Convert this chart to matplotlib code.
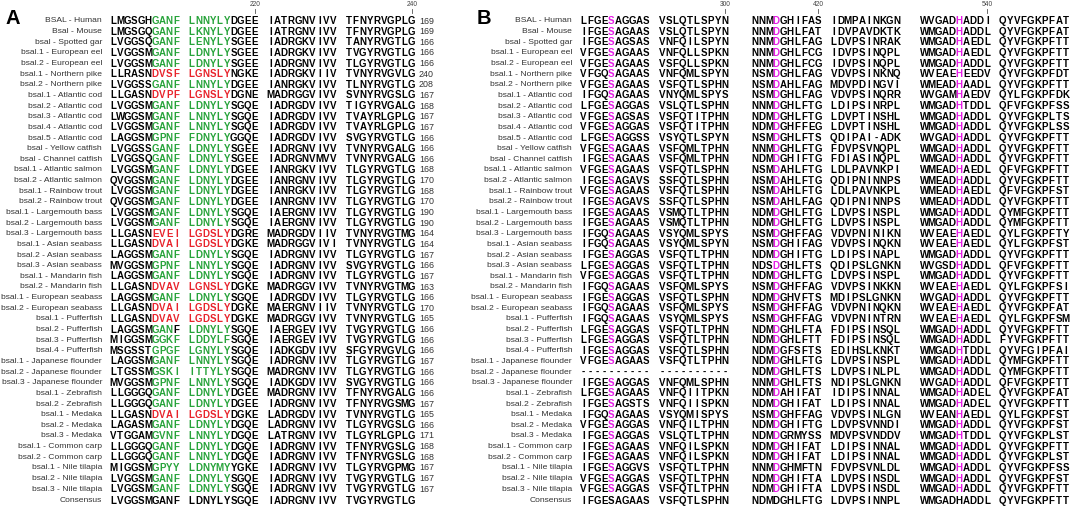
import matplotlib
matplotlib.use("Agg")
import matplotlib.pyplot as plt

# ---- panel A data: species labels, 4 blocks of 10 residues, end position
names_a = [
    "BSAL - Human", "Bsal - Mouse", "bsal - Spotted gar", "bsal.1 - European eel",
    "bsal.2 - European eel", "bsal.1 - Northern pike", "bsal.2 - Northern pike",
    "bsal.1 - Atlantic cod", "bsal.2 - Atlantic cod", "bsal.3 - Atlantic cod",
    "bsal.4 - Atlantic cod", "bsal.5 - Atlantic cod", "bsal - Yellow catfish",
    "bsal - Channel catfish", "bsal.1 - Atlantic salmon", "bsal.2 - Atlantic salmon",
    "bsal.1 - Rainbow trout", "bsal.2 - Rainbow trout", "bsal.1 - Largemouth bass",
    "bsal.2 - Largemouth bass", "bsal.3 - Largemouth bass", "bsal.1 - Asian seabass",
    "bsal.2 - Asian seabass", "bsal.3 - Asian seabass", "bsal.1 - Mandarin fish",
    "bsal.2 - Mandarin fish", "bsal.1 - European seabass", "bsal.2 - European seabass",
    "bsal.1 - Pufferfish", "bsal.2 - Pufferfish", "bsal.3 - Pufferfish",
    "bsal.4 - Pufferfish", "bsal.1 - Japanese flounder", "bsal.2 - Japanese flounder",
    "bsal.3 - Japanese flounder", "bsal.1 - Zebrafish", "bsal.2 - Zebrafish",
    "bsal.1 - Medaka", "bsal.2 - Medaka", "bsal.3 - Medaka", "bsal.1 - Common carp",
    "bsal.2 - Common carp", "bsal.1 - Nile tilapia", "bsal.2 - Nile tilapia",
    "bsal.3 - Nile tilapia",
]
names_b = names_a

seq_a = [
    "LMGSGHGANF LNNYLYDGEE IATRGNVIVV TFNYRVGPLG",
    "LMGSGQGANF LKNYLYDGEE IATRGNVIVV TFNYRVGPLG",
    "LVGGSQGANF LENYLYSGEE IADRGKVIVV TANYRVGTLG",
    "LVGGSMGANF LDNYLYSGEE IADRGKVIVV TVGYRVGTLG",
    "LVGGSMGANF LDNYLYSGEE IADRGNVIVV TLGYRVGTLG",
    "LLRASNDVSF LGNSLYNGKE IADRGKVIIV TVNYRVGVLG",
    "LVGGSSGANF LNNYLYDGEE IANRGKVIVV TLNYRVGTLG",
    "LLGASNDVPF LGNSLYDGNE MADRGGVIVV SVNYRVGSLG",
    "LVGGSMGANF LDNYLYSGQE IADRGDVIVV TIGYRVGALG",
    "LWGGSMGANF LNNYLYSGQE IADRGDVIVV TVAYRLGPLG",
    "LVGGSMGANF LNNYLYSGQE IADRGDVIVV TVAYRLGPLG",
    "LAGGSMGPNF FDNYLYGGQE IADRGDVIVV SVGYRVGTLG",
    "LVGGSSGANF LDNYLYSGEE IADRGNVIVV TVNYRVGALG",
    "LVGGSQGANF LDNYLYSGEE IADRGNVMVV TVNYRVGALG",
    "LVGGSMGANF LDNYLYDGEE IANRGKVIVV TLGYRVGTLG",
    "QVGGSMGANF LDNYLYDGEE IANRGNVIVV TLGYRVGTLG",
    "LVGGSMGANF LDNYLYDGEE IANRGKVIVV TLGYRVGTLG",
    "QVGGSMGANF LDNYLYDGEE IANRGNVIVV TLGYRVGTLG",
    "LVGGSMGANF LDNYLYSGQE IAERGNVIVV TLGYRVGTLG",
    "LVGGSMGANF LDNYLYSGQE IAERGNVIVV TLGYRVGTLG",
    "LLGASNEVEI LGDSLYDGRE MADRGDVIIV TVNYRVGTMG",
    "LLGASNDVAI LGDSLYDGKE MADRGGVIVI TVNYRVGTLG",
    "LAGGSMGANF LDNYLYSGQE IADRGNVIVV TLGYRVGTLG",
    "MVGGSMGPNF LNNYLYSGQE IADRGNVIVV SVGYRVGTLG",
    "LAGGSMGANF LDNYLYSGQE IADRGNVIVV TLGYRVGTLG",
    "LLGASNDVAV LGNSLYDGKE MADRGGVIVV TVNYRVGTMG",
    "LAGGSMGANF LDNYLYSGQE IADRGDVIVV TLGYRVGTLG",
    "LLGASNDVAI LGDSLYDGKE MAERGNVIIV TVNYRVGTLG",
    "LLGASNDVAV LGDSLYDGKE MADRGGVIVV TVNYRVGTLG",
    "LAGGSMGANF LDNYLYSGQE IAERGEVIVV TVGYRVGTLG",
    "MIGGSMGGKF LDDYLFSGQE IAERGEVIVV TVGYRVGTLG",
    "MSGSSTGPGF LGNYLYSGQE IADKGDVIVV SFGYRVGVLG",
    "LAGGSMGANF LNNYLYSGQE IADRGNVIVV TLGYRVGTLG",
    "LTGSSMGSKI ITTYLYSGQE MADRGNVIVV TLGYRVGTLG",
    "MVGGSMGPNF LNNYLYSGQE IADKGDVIVV SVGYRVGTLG",
    "LLGGGQGANF LDNYLYDGEE MADRGNVIVV TFNYRVGALG",
    "LLGGGQGANF LDNYLYDGEE IADRGNVIVV TFNYRVGSMG",
    "LLGASNDVAI LGDSLYDGKE LADRGDVIVV TVNYRVGTLG",
    "LAGASMGANF LDNYLYDGQE LADRGNVIVV TLGYRVGSLG",
    "VTGGAMGVNF LNNYLYDGQE LATRGNVIVV TLGYRLGPLG",
    "LLGGGQGANF LDNYLYDGQE IADRGNVIVV TFNYRVGSLG",
    "LLGGGQGANF LNNYLYDGQE IADRGNVIVV TFNYRVGSLG",
    "MIGGSMGPYY LDNYMYYGKE IADRGNVIVV TLGYRVGPMG",
    "LVGGSMGANF LDNYLYSGQE IADRGNVIVV TVGYRVGTLG",
    "LVGGSMGANF LDNYLYSGQE IADRGNVIVV TVGYRVGTLG",
]
consensus_a = "LVGGSMGANF LDNYLYSGQE IADRGNVIVV TVGYRVGTLG"
end_a = [169, 169, 166, 166, 166, 240, 208, 167, 168, 167, 167, 166, 166, 166, 168,
         170, 168, 170, 190, 190, 164, 164, 167, 166, 167, 163, 166, 170, 165, 166,
         166, 166, 167, 166, 166, 166, 167, 165, 166, 171, 168, 168, 167, 167, 167]
# rows whose motif is drawn red instead of green
red_rows_a = {5, 7, 20, 21, 25, 27, 28, 37}
# (row, column) residues inside the motif left black
black_cells_a = {(29, 9)}
motif_cols_a = range(6, 16)
ticks_a = [(19, "220"), (39, "240")]

# ---- panel B data: 6 blocks of 10 residues
seq_b = [
    "LFGESAGGAS VSLQTLSPYN NNMDGHIFAS IDMPAINKGN WVGADHADDI QYVFGKPFAT",
    "IFGESAGAAS VSLQTLSPYN NNMDGHLFAT IDVPAVDKTK WMGADHADDL QYVFGKPFAT",
    "IFGESAGSAS VNFQILSPYN NNMDGHLFAG LDVPSINRAK WMGADHAEDL QYVFGKPFTT",
    "VFGESAGAAS VNFQLLSPKN NNMDGHLFCG IDVPSINQPL WMGADHAEDL QYVFGKPFTT",
    "VFGESAGAAS VSFQLLSPKN NNMDGHLFCG IDVPSINQPL WMGADHADDL QYVFGKPFTT",
    "VFGQSAGAAS VNFQMLSPYN NSMDGHLFAG VDVPSINKNQ WVEAEHEEDV QYVFGKPFDT",
    "VFGESAGAAS VSFQTLSPHN NSMDAHLFAG MDVPDINGVI WMEADHAADL QYVFGKPFTT",
    "IFGQSAGAAS VNYQMLSPYS NSMDGHLFAG VDVPSINQRR WVGAMHAEDV QYLFGKPFDK",
    "LFGESAGGAS VSLQTLSPHN NNMDGHLFTG LDIPSINRPL WMGADHTDDL QFVFGKPFSS",
    "VFGESAGSAS VSFQTITPHN NDMDGHLFTG LDVPTINSHL WMGADHADDL QYVFGKPLTS",
    "VFGESAGGAS VSFQTITPHN NDMDGHFFEG LDVPTINSHL WMGADHADDL QYVFGKPLSS",
    "LFGESAGGSS VSYQTLSPYN NSMDGHLFTS QDIPAI-ADK WVGADHADDL QYVFGKPFTT",
    "VFGESAGAAS VSFQMLTPHN NNMDGHLFTG FDVPSVNQPL WMGADHADDL QYVFGKPFTT",
    "IFGESAGAAS VSFQMLTPHN NDMDGHIFTG FDIASINQPL WMGADHADDL QYVFGKPFTT",
    "VFGESAGAAS VSFQTLSPHN NSMDAHLFTG LDLPAVNKPI WMEADHAEDL QFVFGKPFTT",
    "IFGESAGAVS SSFQTLSPHN NSMDAHLFTG QDIPNINNPS WMEADHADDL QYVFGKPFTT",
    "VFGESAGAAS VSFQTLSPHN NSMDAHLFTG LDLPAVNKPL WMEADHAEDL QFVFGKPFST",
    "IFGESAGAVS SSFQTLSPHN NSMDAHLFAG QDIPNINNPS WMEADHADDL QYVFGKPFTT",
    "IFGESAGAAS VSMQTLTPHN NDMDGHLFTG LDVPSINSPL WMGADHADDL QYMFGKPFTT",
    "IFGESAGAAS VSMQTLTPHN NDMDGHLFTG LDVPSINSPL WMGADHADDL QYMFGKPFTT",
    "IFGQSAGAAS VSYQMLSPYS NSMDGHFFAG VDVPNINIKN WVEAEHAEDL QYLFGKPFTY",
    "IFGQSAGAAS VSYQMLSPYN NSMDGHIFAG VDVPSINQKN WVEAEHAEDL QYLFGKPFST",
    "IFGESAGGAS VSFQTLTPHN NDMDGHIFTG LDIPSINAPL WMGADHADDL QYVFGKPFTT",
    "LFGESAGGAS VSFQTLTPHN NDSDGHLFTS QDIPSLGNKN WVGSDHADDL QFVFGKPFTT",
    "VFGESAGGAS VSFQTLTPHN NDMDGHLFTG LDVPSINSPL WMGADHADDL QYVFGKPFTT",
    "IFGQSAGAAS VSFQMLSPYS NSMDGHFFAG VDVPSINKKN WVEAEHAEDL QYLFGKPFSI",
    "IFGESAGGAS VSFQTLSPHN NDMDGHVFTS MDIPSLGNKN WVGADHADDL QYVFGKPFTT",
    "IFGQSAGAAS VSFQMLSPYS NSMDGHFFAG VDVPNINQKN WVEAEHAEDL QYVFGKPFAT",
    "IFGQSAGAAS VSYQMLSPYS NSMDGHFFAG VDVPNINTRN WVEAEHAEDL QYLFGKPFSM",
    "LFGESAGGAS VSFQTLTPHN NDMDGHLFTA FDIPSINSQL WMGADHADDL QYVFGKPFTT",
    "LFGESAGGAS VSFQTLTPHN NDMDGHLFTT FDIPSINSQL WMGADHADDL FYVFGKPFTT",
    "IFGESAGGAS VSFQTLSPHN NDMDGFSFTS EDIHSLKNKT WMGADHTDDL QYVFGIPFAI",
    "VFGESAGAAS VSFQTLTPHN NDMDGHLFTG LDVPSINSPL WMGADHADDL QYMFGKPFTT",
    "---------- ---------- NDMDGHLFTS LDVPSINLPL WMGADHADDL QYMFGKPFTT",
    "IFGESAGGAS VNFQMLSPHN NNMDGHLFTS NDIPSLGNKN WVGADHADDL QFVFGKPFTT",
    "LFGESAGAAS VNFQIITPKN NDMDAHIFAT IDIPSINNAL WMGADHADEL QYVFGKPFAT",
    "IFGESAGSTS VNFQIISPKN NDMDGHIFAT LDIPSINNAL WMGADHADEL QYVFGKPFTT",
    "IFGQSAGAAS VSYQMISPYS NSMDGHFFAG VDVPSINLGN WVEANHAEDL QYLFGKPFST",
    "VFGESAGGAS VNFQILTPHN NDMDGHIFTG LDVPSVNNDI WMGADHADDL QYVFGKPFST",
    "IFGESAGGAS VSLQTLTPHN NDMDGRMYSS MDVPSVNDDV WMGADHTDDL QYVFGKPLST",
    "IFGESAGAAS VNFQILSPKN NDMDGHIFAT LDIPSINNAL WMGADHADDL QYVFGKPFTT",
    "IFGESAGAAS VNFQILSPKN NDMDGHIFAT LDIPSINNAL WMGADHADDL QYVFGKPLST",
    "IFGESAGGVS VSFQTLTPHN NNMDGHMFTN FDVPSVNLDL WMGADHADDL QYVFGKPFSS",
    "VFGESAGGAS VSFQTLTPHN NDMDGHIFTA LDVPSINSDL WMGADHADDL QYVFGKPFST",
    "VFGESAGGAS VSFQTLTPHN NDMDGHIFTA LDVPSINSDL WMGADHADDL QYVFGKPFTT",
]
consensus_b = "IFGESAGAAS VSFQTLSPHN NDMDGHLFTG LDVPSINNPL WMGADHADDL QYVFGKPFTT"
# catalytic residues (S, D, H) highlighted in magenta
active_cols_b = [4, 23, 45]
ticks_b = [(19, "300"), (29, "420"), (49, "540")]

GREEN = "#27a33a"
RED = "#e8232b"
MAGENTA = "#e61ee6"
LABEL_C = "#333333"

SEQ_FONT = dict(family="Liberation Sans", weight="bold", size=7.0)
LAB_FONT = dict(family="Liberation Sans", size=6.1)

fig = plt.figure(figsize=(10.72, 5.08), dpi=100)
ax = fig.add_axes([0, 0, 1, 1])
ax.set_xlim(0, 1072)
ax.set_ylim(508, 0)
ax.axis("off")

row_y0 = 21.0
row_dy = 10.64
cons_y = 501.0
pitch = 7.0


def col_x(starts, c):
    return starts[c // 10] + 3.3 + pitch * (c % 10)


def draw_panel(letter, letter_x, lab_right, starts, names, seqs, cons, colour_of, ends, ticks):
    ax.text(letter_x, 19, letter, fontsize=14.5, fontweight="bold",
            family="Liberation Sans", ha="left", va="center")
    for c, lab in ticks:
        x = col_x(starts, c)
        ax.text(x, 5, lab, fontsize=4.8, family="Liberation Sans", color="#444444",
                ha="center", va="center")
        ax.plot([x, x], [9, 12.5], color="#555555", lw=0.6)
    rows = list(zip(names, seqs)) + [("Consensus", cons)]
    for r, (name, s) in enumerate(rows):
        y = row_y0 + row_dy * r if r < len(names) else cons_y
        ax.text(lab_right, y, name, ha="right", va="center", color=LABEL_C, **LAB_FONT)
        res = s.replace(" ", "")
        for c, ch in enumerate(res):
            colr = "black" if r >= len(names) else colour_of(r, c, ch)
            ax.text(col_x(starts, c), y, ch, ha="center", va="center", color=colr, **SEQ_FONT)
        if ends is not None and r < len(ends):
            ax.text(419, y, str(ends[r]), ha="left", va="center", color=LABEL_C,
                    family="Liberation Sans", size=6.4)


def colour_a(r, c, ch):
    if c in motif_cols_a and (r, c) not in black_cells_a:
        return RED if r in red_rows_a else GREEN
    return "black"


def colour_b(r, c, ch):
    if c in active_cols_b and ch != "-":
        return MAGENTA
    return "black"


starts_a = [110, 188.5, 267, 345.5]
starts_b = [580, 658.5, 752, 830.5, 921, 999.5]

draw_panel("A", 5, 102, starts_a, names_a, seq_a, consensus_a, colour_a, end_a, ticks_a)
draw_panel("B", 477, 572, starts_b, names_b, seq_b, consensus_b, colour_b, None, ticks_b)

fig.savefig("out.png", dpi=100, facecolor="white")
